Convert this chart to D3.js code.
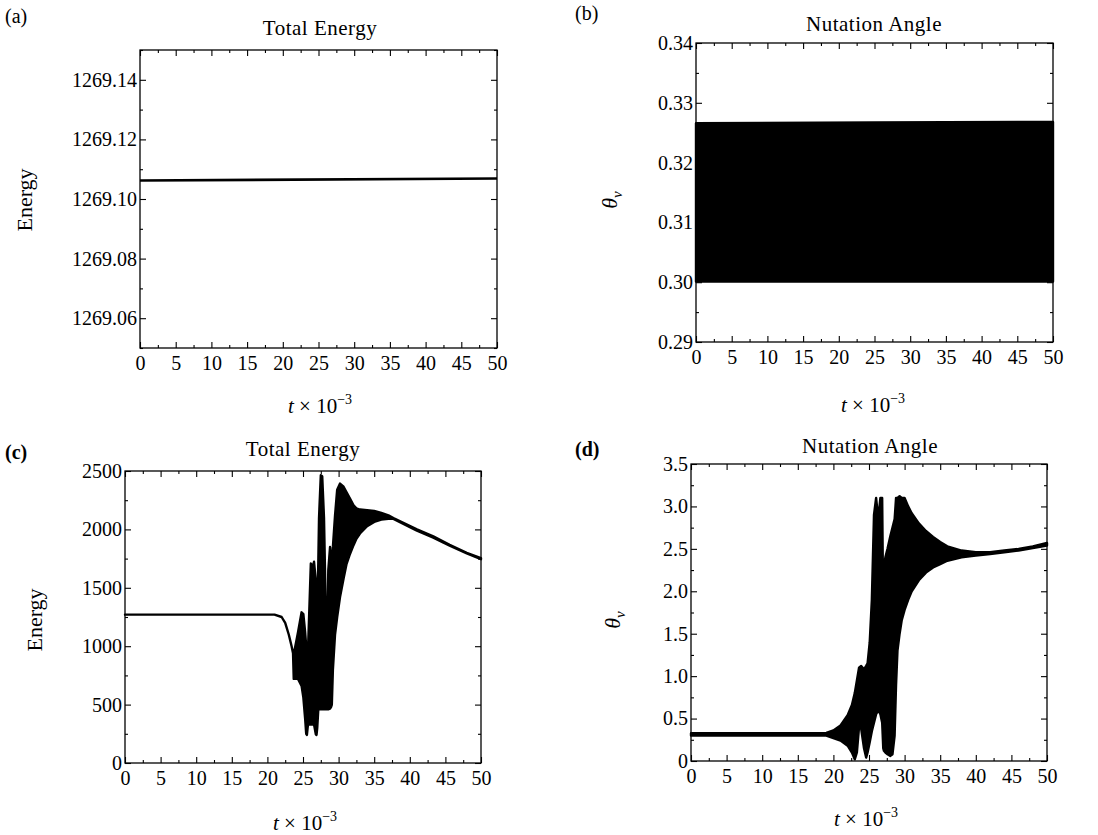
<!DOCTYPE html>
<html>
<head>
<meta charset="utf-8">
<script src="https://cdn.jsdelivr.net/npm/d3@7"></script>
<style>
  body { margin: 0; background: #fff; }
  svg { display: block; }
  svg text { font-family: "Liberation Serif", "DejaVu Serif", serif; }
</style>
</head>
<body>
<svg id="chart" width="1098" height="835"></svg>
<script>
// ====================================
// Données
// ====================================
const timeTicks = [0, 5, 10, 15, 20, 25, 30, 35, 40, 45, 50];
const timeMinorTicks = [2.5, 7.5, 12.5, 17.5, 22.5, 27.5, 32.5, 37.5, 42.5, 47.5];

// (a) énergie totale, quasi constante
const energyA_t = [0, 50];
const energyA = [1269.1062, 1269.1069];
const energyA_ticks = [1269.06, 1269.08, 1269.10, 1269.12, 1269.14];
const energyA_minor = [1269.05, 1269.07, 1269.09, 1269.11, 1269.13, 1269.15];

// (b) angle de nutation, bande d'oscillation
const nutationB_t = [0, 25, 50];
const nutationB_upper = [0.3266, 0.3267, 0.3268];
const nutationB_lower = [0.3001, 0.3001, 0.3001];
const nutationB_ticks = [0.29, 0.30, 0.31, 0.32, 0.33, 0.34];
const nutationB_minor = [0.295, 0.305, 0.315, 0.325, 0.335];

// (c) énergie totale, enveloppe haute / basse
const energyC_t = [0, 21, 22, 22.5, 23, 23.4, 23.6, 23.7, 24.3, 24.8,
  25.05, 25.3, 25.45, 25.55, 25.7, 26.1, 26.35, 26.55, 26.8, 26.9,
  27.0, 27.15, 27.25, 27.5, 27.7, 27.95, 28.2, 28.4, 28.55, 28.8,
  28.95, 29.05, 29.2, 29.5, 29.8, 30.2, 30.7, 31.1, 31.6, 32.1,
  32.5, 33, 34, 35, 36, 37, 37.7, 41, 43.3, 45.6, 48, 50];
const energyC_upper = [1270, 1270, 1250, 1200, 1100, 1000, 940, 930, 1120, 1290,
  1275, 1120, 1000, 800, 960, 1708, 1680, 1723, 1560, 1400,
  1300, 1720, 2100, 2463, 2455, 2100, 1300, 1000, 1650, 1850,
  1600, 1750, 1850, 2120, 2340, 2392, 2365, 2320, 2263, 2206,
  2180, 2170, 2164, 2158, 2141, 2121, 2098, 2000, 1940, 1868, 1800, 1755];
const energyC_lower = [1270, 1270, 1250, 1200, 1100, 1000, 940, 720, 720, 660,
  560, 380, 250, 240, 330, 330, 330, 330, 245, 240,
  300, 460, 460, 460, 460, 460, 460, 460, 460, 465,
  480, 500, 800, 1100, 1250, 1420, 1580, 1700, 1790, 1865,
  1920, 1965, 2027, 2064, 2084, 2090, 2090, 1990, 1930, 1860, 1795, 1745];
const energyC_ticks = [0, 500, 1000, 1500, 2000, 2500];
const energyC_minor = [250, 750, 1250, 1750, 2250];

// (d) angle de nutation, enveloppe haute / basse
const nutationD_t = [0, 19, 20, 21, 22, 22.6, 23.0, 23.3, 23.6, 23.9,
  24.3, 24.6, 24.8, 25.1, 25.4, 25.7, 26.0, 26.3, 26.6, 26.85,
  27.0, 27.1, 27.3, 27.6, 28.0, 28.3, 28.6, 28.8, 29.0, 29.3,
  29.6, 30.0, 30.5, 31, 32, 33, 34, 35, 36, 38,
  40, 42, 44, 46, 48, 50];
const nutationD_upper = [0.327, 0.33, 0.36, 0.42, 0.54, 0.66, 0.80, 0.95, 1.10, 1.12,
  1.08, 1.12, 1.15, 1.40, 1.90, 2.90, 3.10, 2.85, 3.10, 3.10,
  1.75, 2.30, 2.40, 2.50, 2.65, 2.75, 2.85, 3.10, 3.10, 3.12,
  3.10, 3.10, 3.00, 2.92, 2.80, 2.71, 2.64, 2.58, 2.53, 2.48,
  2.46, 2.46, 2.48, 2.50, 2.53, 2.57];
const nutationD_lower = [0.300, 0.30, 0.27, 0.24, 0.18, 0.10, 0.02, 0.10, 0.40, 0.38,
  0.15, 0.04, 0.10, 0.22, 0.35, 0.45, 0.55, 0.60, 0.55, 0.45,
  0.15, 0.12, 0.10, 0.08, 0.06, 0.08, 0.30, 0.90, 1.30, 1.50,
  1.66, 1.78, 1.90, 2.00, 2.13, 2.22, 2.28, 2.32, 2.36, 2.40,
  2.42, 2.44, 2.46, 2.48, 2.51, 2.54];
const nutationD_ticks = [0, 0.5, 1.0, 1.5, 2.0, 2.5, 3.0, 3.5];
const nutationD_minor = [0.25, 0.75, 1.25, 1.75, 2.25, 2.75, 3.25];

// ====================================
// Rendu
// ====================================
const FONT = "Liberation Serif, DejaVu Serif, serif";
const svg = d3.select("#chart");

const panels = [
  {
    tag: "(a)", tagX: 5, tagY: 23, bold: false,
    title: "Total Energy", titleX: 320, titleY: 35,
    left: 140, right: 497, top: 50, bottom: 348,
    yDomain: [1269.05, 1269.15], yTicks: energyA_ticks, yMinor: energyA_minor,
    yFormat: d3.format(".2f"),
    yLabel: "energy", yLabelX: 32, yLabelY: 200,
    xLabelX: 320, xLabelY: 413,
    line: { t: energyA_t, v: energyA }
  },
  {
    tag: "(b)", tagX: 575, tagY: 20, bold: false,
    title: "Nutation Angle", titleX: 874, titleY: 31,
    left: 696, right: 1053, top: 43, bottom: 342,
    yDomain: [0.29, 0.34], yTicks: nutationB_ticks, yMinor: nutationB_minor,
    yFormat: d3.format(".2f"),
    yLabel: "theta", yLabelX: 617, yLabelY: 200,
    xLabelX: 873, xLabelY: 412,
    band: { t: nutationB_t, hi: nutationB_upper, lo: nutationB_lower }
  },
  {
    tag: "(c)", tagX: 5, tagY: 459, bold: true,
    title: "Total Energy", titleX: 303, titleY: 456,
    left: 125, right: 481, top: 471, bottom: 763,
    yDomain: [0, 2500], yTicks: energyC_ticks, yMinor: energyC_minor,
    yFormat: d3.format("d"),
    yLabel: "energy", yLabelX: 42, yLabelY: 620,
    xLabelX: 305, xLabelY: 830,
    band: { t: energyC_t, hi: energyC_upper, lo: energyC_lower }
  },
  {
    tag: "(d)", tagX: 575, tagY: 456, bold: true,
    title: "Nutation Angle", titleX: 870, titleY: 453,
    left: 691, right: 1047, top: 464, bottom: 761,
    yDomain: [0, 3.5], yTicks: nutationD_ticks, yMinor: nutationD_minor,
    yFormat: d => d === 0 ? "0" : d3.format(".1f")(d),
    yLabel: "theta", yLabelX: 620, yLabelY: 620,
    xLabelX: 866, xLabelY: 826,
    band: { t: nutationD_t, hi: nutationD_upper, lo: nutationD_lower }
  }
];

/**
 * Ajoute un axe (graduations tournées vers l'intérieur)
 */
function addAxis(g, axis, transform, labelled) {
    const a = g.append("g")
        .attr("transform", transform)
        .call(axis);
    a.select(".domain").remove();
    a.selectAll("line").attr("stroke", "#000").attr("stroke-width", 1.1);
    a.attr("font-family", null).attr("font-size", null);
    a.selectAll("text")
        .style("font-family", FONT)
        .style("font-size", labelled ? "20px" : "0px")
        .attr("fill", "#000");
    return a;
}

/**
 * Dessine un panneau complet
 */
function drawPanel(p) {
    const g = svg.append("g");
    const x = d3.scaleLinear().domain([0, 50]).range([p.left, p.right]);
    const y = d3.scaleLinear().domain(p.yDomain).range([p.bottom, p.top]);

    // Série
    if (p.line) {
        const pts = p.line.t.map((t, i) => [t, p.line.v[i]]);
        g.append("path")
            .datum(pts)
            .attr("fill", "none")
            .attr("stroke", "#000")
            .attr("stroke-width", 2.6)
            .attr("d", d3.line().x(d => x(d[0])).y(d => y(d[1])));
    }
    if (p.band) {
        const pts = p.band.t.map((t, i) => ({ t, hi: p.band.hi[i], lo: p.band.lo[i] }));
        g.append("path")
            .datum(pts)
            .attr("fill", "#000")
            .attr("stroke", "#000")
            .attr("stroke-width", 2.4)
            .attr("stroke-linejoin", "round")
            .attr("d", d3.area()
                .x(d => x(d.t))
                .y0(d => y(d.lo))
                .y1(d => y(d.hi)));
    }

    // Graduations majeures et mineures, sur les quatre côtés
    const none = () => "";
    addAxis(g, d3.axisBottom(x).tickValues(timeTicks).tickSize(-6).tickSizeOuter(0)
        .tickPadding(8).tickFormat(d3.format("d")), `translate(0,${p.bottom})`, true);
    addAxis(g, d3.axisBottom(x).tickValues(timeMinorTicks).tickSize(-3).tickSizeOuter(0)
        .tickFormat(none), `translate(0,${p.bottom})`, false);
    addAxis(g, d3.axisTop(x).tickValues(timeTicks).tickSize(-6).tickSizeOuter(0)
        .tickFormat(none), `translate(0,${p.top})`, false);
    addAxis(g, d3.axisTop(x).tickValues(timeMinorTicks).tickSize(-3).tickSizeOuter(0)
        .tickFormat(none), `translate(0,${p.top})`, false);

    addAxis(g, d3.axisLeft(y).tickValues(p.yTicks).tickSize(-6).tickSizeOuter(0)
        .tickPadding(3).tickFormat(p.yFormat), `translate(${p.left},0)`, true);
    addAxis(g, d3.axisLeft(y).tickValues(p.yMinor).tickSize(-3).tickSizeOuter(0)
        .tickFormat(none), `translate(${p.left},0)`, false);
    addAxis(g, d3.axisRight(y).tickValues(p.yTicks).tickSize(-6).tickSizeOuter(0)
        .tickFormat(none), `translate(${p.right},0)`, false);
    addAxis(g, d3.axisRight(y).tickValues(p.yMinor).tickSize(-3).tickSizeOuter(0)
        .tickFormat(none), `translate(${p.right},0)`, false);

    // Cadre
    g.append("rect")
        .attr("x", p.left).attr("y", p.top)
        .attr("width", p.right - p.left).attr("height", p.bottom - p.top)
        .attr("fill", "none")
        .attr("stroke", "#000")
        .attr("stroke-width", 1.3);

    // Textes
    g.append("text")
        .attr("x", p.tagX).attr("y", p.tagY)
        .style("font-size", "20px")
        .style("font-weight", p.bold ? "bold" : "normal")
        .text(p.tag);

    g.append("text")
        .attr("x", p.titleX).attr("y", p.titleY)
        .attr("text-anchor", "middle")
        .style("font-size", "21px")
        .style("letter-spacing", "0.5px")
        .text(p.title);

    const yl = g.append("text")
        .attr("transform", `translate(${p.yLabelX},${p.yLabelY}) rotate(-90)`)
        .attr("text-anchor", "middle")
        .style("font-size", "22px");
    if (p.yLabel === "energy") {
        yl.text("Energy");
    } else {
        yl.append("tspan").style("font-style", "italic").text("θ");
        yl.append("tspan").style("font-style", "italic").style("font-size", "15px")
            .attr("dy", 5).text("ν");
    }

    const xl = g.append("text")
        .attr("x", p.xLabelX).attr("y", p.xLabelY)
        .attr("text-anchor", "middle")
        .style("font-size", "21px");
    xl.append("tspan").style("font-style", "italic").text("t");
    xl.append("tspan").text(" × 10");
    xl.append("tspan").style("font-size", "14px").attr("dy", -9).text("−3");
}

panels.forEach(drawPanel);
</script>
</body>
</html>
